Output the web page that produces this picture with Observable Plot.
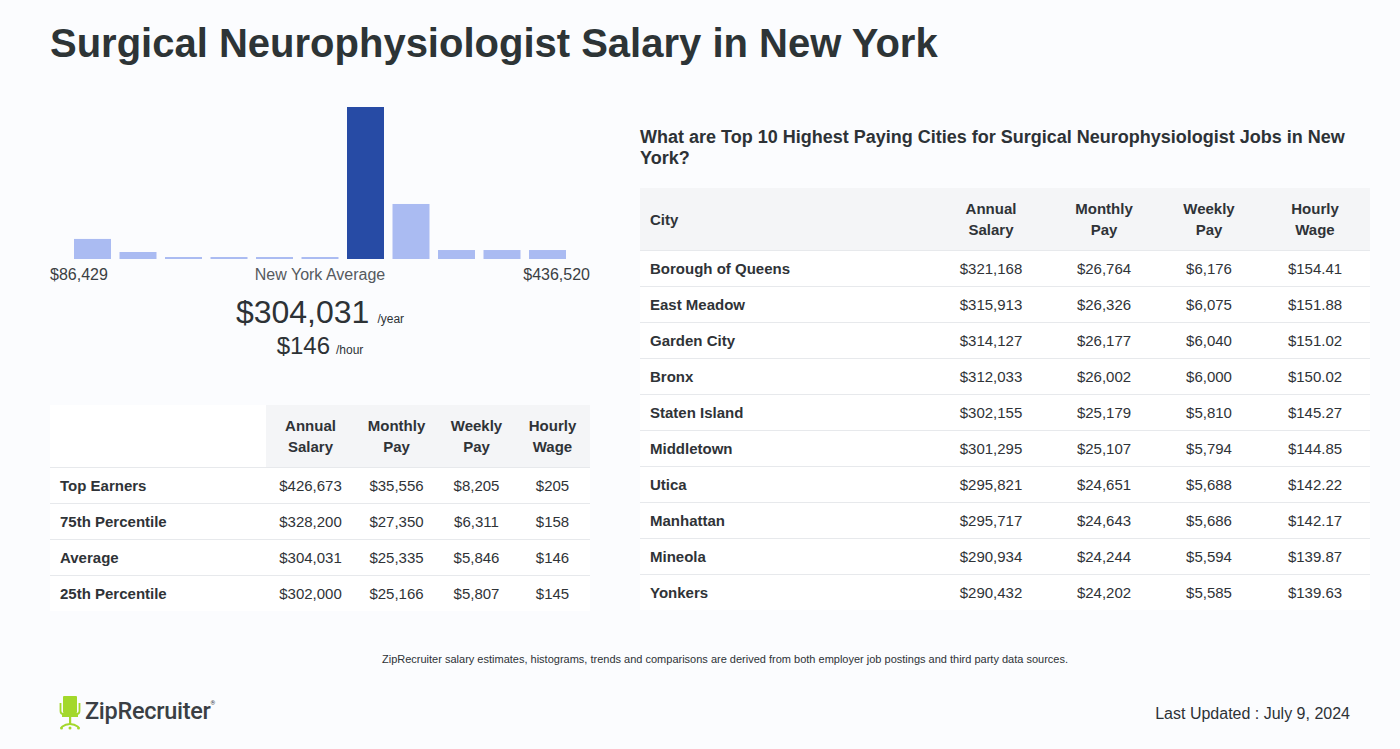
<!DOCTYPE html>
<html>
<head>
<meta charset="utf-8">
<script src="https://cdn.jsdelivr.net/npm/d3@7"></script>
<script src="https://cdn.jsdelivr.net/npm/@observablehq/plot@0.6"></script>
<style>
  html, body { margin: 0; padding: 0; }
  body { width: 1400px; height: 749px; background: #fbfcfe; font-family: "Liberation Sans", Arial, Helvetica, sans-serif; color: #2d3236; position: relative; overflow: hidden; }
  .abs { position: absolute; }
  h1 { position: absolute; left: 50px; top: 21px; margin: 0; font-size: 40px; font-weight: bold; color: #2d3436; white-space: nowrap; }
  table { border-collapse: collapse; font-size: 15px; color: #2f3337; }
  th { font-weight: bold; text-align: center; line-height: 21px; padding: 0; }
  td { text-align: center; height: 35px; border-top: 1px solid #e7e9ec; padding: 0; background: #fff; }
  td.lab { text-align: left; font-weight: bold; padding-left: 10px; }
  thead th { height: 62px; background: #f4f5f7; }
  #hist svg { display: block; }
</style>
</head>
<body>
<h1 id="title"></h1>

<div id="hist" class="abs" style="left:50px; top:95px;"></div>
<div class="abs" style="left:50px; top:265px; width:540px; height:20px; font-size:16px; line-height:20px; color:#3b3f43;">
  <span id="minLab" class="abs" style="left:0;"></span>
  <span id="midLab" class="abs" style="left:0; width:540px; text-align:center; color:#555a5e;"></span>
  <span id="maxLab" class="abs" style="right:0;"></span>
</div>
<div class="abs" style="left:50px; top:292px; width:540px; text-align:center; line-height:40px;">
  <span id="avgYear" style="font-size:32px; color:#2d3236;"></span><span style="font-size:12px; margin-left:8px;">/year</span>
</div>
<div class="abs" style="left:50px; top:330px; width:540px; text-align:center; line-height:32px;">
  <span id="avgHour" style="font-size:24px; color:#2d3236;"></span><span style="font-size:12px; margin-left:6px;">/hour</span>
</div>

<table id="leftTable" class="abs" style="left:50px; top:405px; width:540px;">
  <colgroup><col style="width:216px"><col style="width:89px"><col style="width:83px"><col style="width:77px"><col style="width:75px"></colgroup>
  <thead><tr id="leftHead"></tr></thead>
  <tbody id="leftBody"></tbody>
</table>

<div id="rightTitle" class="abs" style="left:640px; top:127px; width:730px; font-size:18px; font-weight:bold; line-height:21px; color:#2d3236;"></div>
<table id="rightTable" class="abs" style="left:640px; top:188px; width:730px;">
  <colgroup><col style="width:292px"><col style="width:118px"><col style="width:108px"><col style="width:102px"><col style="width:110px"></colgroup>
  <thead><tr id="rightHead"></tr></thead>
  <tbody id="rightBody"></tbody>
</table>

<div id="note" class="abs" style="left:50px; width:1350px; top:653px; text-align:center; font-size:11px; color:#2d3236;"></div>

<div class="abs" style="left:58px; top:694px; height:36px;">
  <svg width="24" height="36" viewBox="0 0 24 36" style="position:absolute; left:0; top:0;">
    <rect x="5" y="2" width="14" height="17" rx="1" fill="#a3d82b"/>
    <path d="M2.5 9 V17 Q2.5 20 5.5 20 H18.5 Q21.5 20 21.5 17 V9" fill="none" stroke="#a3d82b" stroke-width="1.8"/>
    <rect x="4" y="20" width="16" height="3" fill="#a3d82b"/>
    <rect x="11" y="23" width="2.2" height="8" fill="#a3d82b"/>
    <path d="M3.5 33 Q12 27 20.5 33" fill="none" stroke="#a3d82b" stroke-width="1.8"/>
    <circle cx="3.5" cy="34" r="1.5" fill="#a3d82b"/>
    <circle cx="20.5" cy="34" r="1.5" fill="#a3d82b"/>
    <circle cx="12" cy="34" r="1.5" fill="#a3d82b"/>
  </svg>
  <span id="logo" style="position:absolute; left:27px; top:3px; font-family: Roboto, 'Liberation Sans', sans-serif; font-weight:500; font-size:23.5px; color:#3a3f44; white-space:nowrap; letter-spacing:-0.3px;"></span>
</div>
<div id="updated" class="abs" style="right:50px; top:705px; font-size:16px; color:#2d3236;"></div>

<script>
// ---- data ----
const titleText = "Surgical Neurophysiologist Salary in New York";
const binLabels = ["$86k","$118k","$150k","$182k","$214k","$246k","$277k","$309k","$341k","$373k","$405k"];
const binHeights = [13.2, 4.6, 1.3, 1.3, 1.3, 1.3, 100, 36.2, 5.9, 5.9, 5.9];
const averageBin = "$277k";
const minLabel = "$86,429";
const maxLabel = "$436,520";
const midLabel = "New York Average";
const avgYear = "$304,031";
const avgHour = "$146";

const payHeaders = ["Annual<br>Salary", "Monthly<br>Pay", "Weekly<br>Pay", "Hourly<br>Wage"];
const pctLabels = ["Top Earners", "75th Percentile", "Average", "25th Percentile"];
const pctAnnual = ["$426,673", "$328,200", "$304,031", "$302,000"];
const pctMonthly = ["$35,556", "$27,350", "$25,335", "$25,166"];
const pctWeekly = ["$8,205", "$6,311", "$5,846", "$5,807"];
const pctHourly = ["$205", "$158", "$146", "$145"];

const citiesTitle = "What are Top 10 Highest Paying Cities for Surgical Neurophysiologist Jobs in New York?";
const cities = ["Borough of Queens", "East Meadow", "Garden City", "Bronx", "Staten Island", "Middletown", "Utica", "Manhattan", "Mineola", "Yonkers"];
const cityAnnual = ["$321,168", "$315,913", "$314,127", "$312,033", "$302,155", "$301,295", "$295,821", "$295,717", "$290,934", "$290,432"];
const cityMonthly = ["$26,764", "$26,326", "$26,177", "$26,002", "$25,179", "$25,107", "$24,651", "$24,643", "$24,244", "$24,202"];
const cityWeekly = ["$6,176", "$6,075", "$6,040", "$6,000", "$5,810", "$5,794", "$5,688", "$5,686", "$5,594", "$5,585"];
const cityHourly = ["$154.41", "$151.88", "$151.02", "$150.02", "$145.27", "$144.85", "$142.22", "$142.17", "$139.87", "$139.63"];

const noteText = "ZipRecruiter salary estimates, histograms, trends and comparisons are derived from both employer job postings and third party data sources.";
const updatedText = "Last Updated : July 9, 2024";

// ---- text ----
document.getElementById("title").textContent = titleText;
document.getElementById("minLab").textContent = minLabel;
document.getElementById("maxLab").textContent = maxLabel;
document.getElementById("midLab").textContent = midLabel;
document.getElementById("avgYear").textContent = avgYear;
document.getElementById("avgHour").textContent = avgHour;
document.getElementById("rightTitle").textContent = citiesTitle;
document.getElementById("note").textContent = noteText;
document.getElementById("updated").textContent = updatedText;
document.getElementById("logo").innerHTML = "ZipRecruiter<sup style='font-size:6px; vertical-align:14px;'>®</sup>";

// ---- histogram ----
const histData = binLabels.map((b, i) => ({bin: b, h: binHeights[i]}));
const chart = Plot.plot({
  width: 540,
  height: 165,
  marginTop: 12,
  marginBottom: 1,
  marginLeft: 19.75,
  marginRight: 19.75,
  style: {background: "transparent"},
  x: {domain: binLabels, paddingInner: 0.187, paddingOuter: 0.0935, round: false, axis: null},
  y: {domain: [0, 100], axis: null},
  marks: [
    Plot.barY(histData, {x: "bin", y: "h", fill: d => d.bin === averageBin ? "#274ba5" : "#aabbf2"})
  ]
});
document.getElementById("hist").appendChild(chart);

// ---- tables ----
const lh = document.getElementById("leftHead");
lh.innerHTML = `<th style="background:#fff"></th>` + payHeaders.map(h => `<th>${h}</th>`).join("");
document.getElementById("leftBody").innerHTML = pctLabels.map((l, i) =>
  `<tr><td class="lab">${l}</td><td>${pctAnnual[i]}</td><td>${pctMonthly[i]}</td><td>${pctWeekly[i]}</td><td>${pctHourly[i]}</td></tr>`).join("");

const rh = document.getElementById("rightHead");
rh.innerHTML = `<th style="text-align:left; padding-left:10px;">City</th>` + payHeaders.map(h => `<th>${h}</th>`).join("");
document.getElementById("rightBody").innerHTML = cities.map((c, i) =>
  `<tr><td class="lab">${c}</td><td>${cityAnnual[i]}</td><td>${cityMonthly[i]}</td><td>${cityWeekly[i]}</td><td>${cityHourly[i]}</td></tr>`).join("");
</script>
</body>
</html>
